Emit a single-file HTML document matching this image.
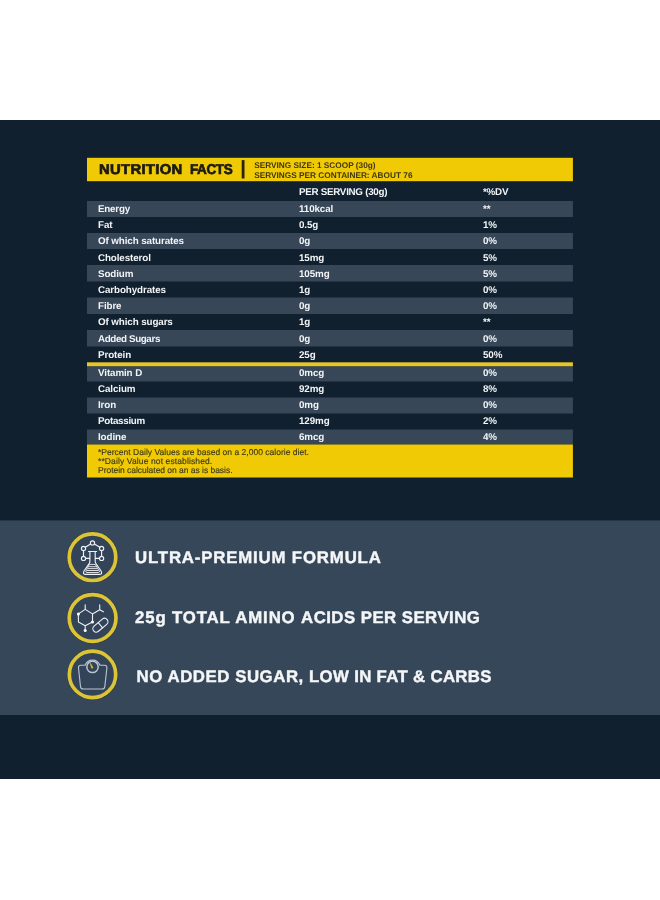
<!DOCTYPE html>
<html><head><meta charset="utf-8"><title>Nutrition Facts</title>
<style>
html,body{margin:0;padding:0;background:#fff;}
body{width:660px;height:900px;position:relative;overflow:hidden;font-family:"Liberation Sans",sans-serif;text-rendering:geometricPrecision;}
#bg{position:absolute;left:0;top:0;}
.x{position:absolute;white-space:nowrap;line-height:20px;}
.t{font-weight:bold;font-size:14.2px;color:#1c1a12;-webkit-text-stroke:0.7px #1c1a12;}
.s{left:254.2px;font-weight:bold;font-size:8.28px;color:#40380f;}
.r{color:#f2f4f6;font-size:9.8px;font-weight:bold;letter-spacing:-0.1px;}
.c1{left:98px}.c2{left:299px}.c3{left:483px}
.f{left:98px;color:#3d3a18;font-size:8.5px;-webkit-text-stroke:0.15px #3d3a18;}
.feat{left:135px;color:#f4f6f8;font-weight:bold;font-size:16.8px;-webkit-text-stroke:0.45px #f4f6f8;}
</style></head><body>
<svg id="bg" width="660" height="900" viewBox="0 0 660 900">
<rect x="0" y="120" width="660" height="659" fill="#10202f"/>
<rect x="0" y="520.4" width="660" height="194.6" fill="#36475a"/>
<rect x="87.0" y="157.8" width="485.9" height="23.4" fill="#f1ca06"/>
<rect x="87.0" y="201" width="485.9" height="16" fill="#374758"/>
<rect x="87.0" y="233" width="485.9" height="16" fill="#374758"/>
<rect x="87.0" y="265" width="485.9" height="16.5" fill="#374758"/>
<rect x="87.0" y="297.5" width="485.9" height="16.5" fill="#374758"/>
<rect x="87.0" y="330" width="485.9" height="16.5" fill="#374758"/>
<rect x="87.0" y="362.3" width="485.9" height="4.2" fill="#e6c62a"/>
<rect x="87.0" y="366.5" width="485.9" height="15.0" fill="#374758"/>
<rect x="87.0" y="397.5" width="485.9" height="16.0" fill="#374758"/>
<rect x="87.0" y="429.5" width="485.9" height="15.0" fill="#374758"/>
<rect x="87.0" y="444.5" width="485.9" height="33" fill="#f1ca06"/>
<rect x="241.7" y="160.1" width="2.8" height="18.4" fill="#2a2412"/>
<g fill="none" stroke="#27313a" stroke-opacity="0.45" stroke-width="5">
<circle cx="92.5" cy="557.2" r="23.3"/><circle cx="92.6" cy="618" r="23.4"/><circle cx="92.5" cy="674.4" r="23.2"/>
</g>
<g fill="#334459" stroke="#dbc435" stroke-width="3.7">
<circle cx="92.5" cy="557.2" r="23.3"/><circle cx="92.6" cy="618" r="23.4"/><circle cx="92.5" cy="674.4" r="23.2"/>
</g>
<!-- flask -->
<g fill="none" stroke="#eef1f5" stroke-width="1.15" stroke-linecap="round" stroke-linejoin="round">
<circle cx="92.5" cy="542.9" r="2.1"/><circle cx="83.5" cy="548.4" r="2.1"/><circle cx="101.6" cy="548.4" r="2.1"/><circle cx="83.5" cy="558.4" r="2.1"/><circle cx="101.6" cy="558.4" r="2.1"/>
<path d="M90.6 544 L85.3 547.3 M94.4 544 L99.8 547.3 M83.5 550.5 V556.3 M101.6 550.5 V556.3 M85.6 558.4 H89.6 M99.5 558.4 H95.4"/>
<path d="M88.5 551.5 H96.6 M89.9 551.7 V561.2 Q89.9 562.6 89 563.9 L84 571 Q82.4 574.4 85.6 574.4 H99.5 Q102.7 574.4 101.1 571 L96.1 563.9 Q95.2 562.6 95.2 561.2 V551.7"/>
<path d="M90 564.4 H95.2 L99.3 571.1 Q99.8 572.5 98.5 572.5 H86.7 Q85.4 572.5 85.9 571.1 Z" stroke-width="0.9"/>
<path d="M89.5 566.7 H95.7 M88.3 568.6 H97 M87.2 570.5 H98" stroke-width="0.9"/>
</g>
<!-- molecule + pill -->
<g fill="none" stroke="#eef1f5" stroke-width="1.1" stroke-linecap="round" stroke-linejoin="round">
<path d="M85.2 609.4 L92.5 613.9 V622.1 L85.2 625.7 L78.4 622.1 V613.9 Z M85.2 609.4 V604.8 M92.5 613.9 L99.7 609.8 V604.8 M99.7 609.8 L103.4 611.8 M85.2 625.7 V630.5"/>
<g fill="#ffffff" stroke="none"><circle cx="78.4" cy="613.9" r="1.5"/><circle cx="92.5" cy="622.1" r="1.5"/><circle cx="85.2" cy="630.6" r="1.5"/></g>
<g transform="translate(100.4 625.2) rotate(-40)"><rect x="-8.8" y="-3.4" width="17.6" height="6.8" rx="3.4"/><path d="M0 -3.4 V3.4"/></g>
</g>
<!-- scale -->
<g fill="none" stroke="#b9c5d3" stroke-width="1.1" stroke-linecap="round" stroke-linejoin="round">
<path d="M85 665.3 H81 Q78.3 665.3 78.5 668 L80.5 686.6 Q80.8 689 83.3 689 H102 Q104.5 689 104.8 686.6 L106.9 668 Q107.1 665.3 104.4 665.3 H100 A8 8 0 0 0 85 665.3 Z"/>
<circle cx="92.5" cy="666.9" r="5.7" stroke-width="1.5"/>
<path d="M92.9 667.6 L90.3 663.3 L91.6 667.9 Z" fill="#d9c23a" stroke="#d9c23a" stroke-width="0.7"/>
</g>

</svg>
<div class="x t" style="top:159.78px;left:98.6px;transform-origin:0 50%;transform:scaleX(1.045);letter-spacing:0.3px">NUTRITION</div><div class="x t" style="top:159.78px;left:190.1px;transform-origin:0 50%;transform:scaleX(0.95);letter-spacing:-0.4px">FACTS</div>
<div class="x s" style="top:155.93px">SERVING SIZE: 1 SCOOP (30g)</div>
<div class="x s" style="top:165.63px">SERVINGS PER CONTAINER: ABOUT 76</div>
<div class="x r c2" style="top:182.5px;letter-spacing:-0.28px">PER SERVING (30g)</div>
<div class="x r c3" style="top:182.5px;letter-spacing:-0.2px">*%DV</div>
<div class="x r c1" style="top:199.5px;letter-spacing:-0.2px">Energy</div><div class="x r c2" style="top:199.5px">110kcal</div><div class="x r c3" style="top:199.5px">**</div>
<div class="x r c1" style="top:215.5px;letter-spacing:-0.1px">Fat</div><div class="x r c2" style="top:215.5px">0.5g</div><div class="x r c3" style="top:215.5px">1%</div>
<div class="x r c1" style="top:231.5px;letter-spacing:-0.1px">Of which saturates</div><div class="x r c2" style="top:231.5px">0g</div><div class="x r c3" style="top:231.5px">0%</div>
<div class="x r c1" style="top:248.5px;letter-spacing:-0.1px">Cholesterol</div><div class="x r c2" style="top:248.5px">15mg</div><div class="x r c3" style="top:248.5px">5%</div>
<div class="x r c1" style="top:264.5px;letter-spacing:-0.1px">Sodium</div><div class="x r c2" style="top:264.5px">105mg</div><div class="x r c3" style="top:264.5px">5%</div>
<div class="x r c1" style="top:280.5px;letter-spacing:-0.1px">Carbohydrates</div><div class="x r c2" style="top:280.5px">1g</div><div class="x r c3" style="top:280.5px">0%</div>
<div class="x r c1" style="top:296.5px;letter-spacing:-0.1px">Fibre</div><div class="x r c2" style="top:296.5px">0g</div><div class="x r c3" style="top:296.5px">0%</div>
<div class="x r c1" style="top:312.5px;letter-spacing:-0.1px">Of which sugars</div><div class="x r c2" style="top:312.5px">1g</div><div class="x r c3" style="top:312.5px">**</div>
<div class="x r c1" style="top:329.5px;letter-spacing:-0.37px">Added Sugars</div><div class="x r c2" style="top:329.5px">0g</div><div class="x r c3" style="top:329.5px">0%</div>
<div class="x r c1" style="top:345.5px;letter-spacing:-0.1px">Protein</div><div class="x r c2" style="top:345.5px">25g</div><div class="x r c3" style="top:345.5px">50%</div>
<div class="x r c1" style="top:363.5px;letter-spacing:-0.1px">Vitamin D</div><div class="x r c2" style="top:363.5px">0mcg</div><div class="x r c3" style="top:363.5px">0%</div>
<div class="x r c1" style="top:379.5px;letter-spacing:-0.1px">Calcium</div><div class="x r c2" style="top:379.5px">92mg</div><div class="x r c3" style="top:379.5px">8%</div>
<div class="x r c1" style="top:395.5px;letter-spacing:-0.1px">Iron</div><div class="x r c2" style="top:395.5px">0mg</div><div class="x r c3" style="top:395.5px">0%</div>
<div class="x r c1" style="top:411.5px;letter-spacing:-0.29px">Potassium</div><div class="x r c2" style="top:411.5px">129mg</div><div class="x r c3" style="top:411.5px">2%</div>
<div class="x r c1" style="top:427.5px;letter-spacing:-0.1px">Iodine</div><div class="x r c2" style="top:427.5px">6mcg</div><div class="x r c3" style="top:427.5px">4%</div>
<div class="x f" style="top:442.15px;letter-spacing:0.015px">*Percent Daily Values are based on a 2,000 calorie diet.</div>
<div class="x f" style="top:451.15px;letter-spacing:0.115px">**Daily Value not established.</div>
<div class="x f" style="top:460.15px;letter-spacing:-0.03px">Protein calculated on an as is basis.</div>
<div class="x feat" style="top:548.38px;letter-spacing:0.84px">ULTRA-PREMIUM FORMULA</div>
<div class="x feat" style="top:608.38px"><span style="letter-spacing:0.86px">25g TOTAL AMINO </span><span style="letter-spacing:0.47px">ACIDS PER SERVING</span></div>
<div class="x feat" style="top:666.98px;left:136.6px"><span style="letter-spacing:0.56px">NO ADDED SUGAR, </span><span style="letter-spacing:0.33px">LOW IN FAT &amp; CARBS</span></div>
</body></html>
